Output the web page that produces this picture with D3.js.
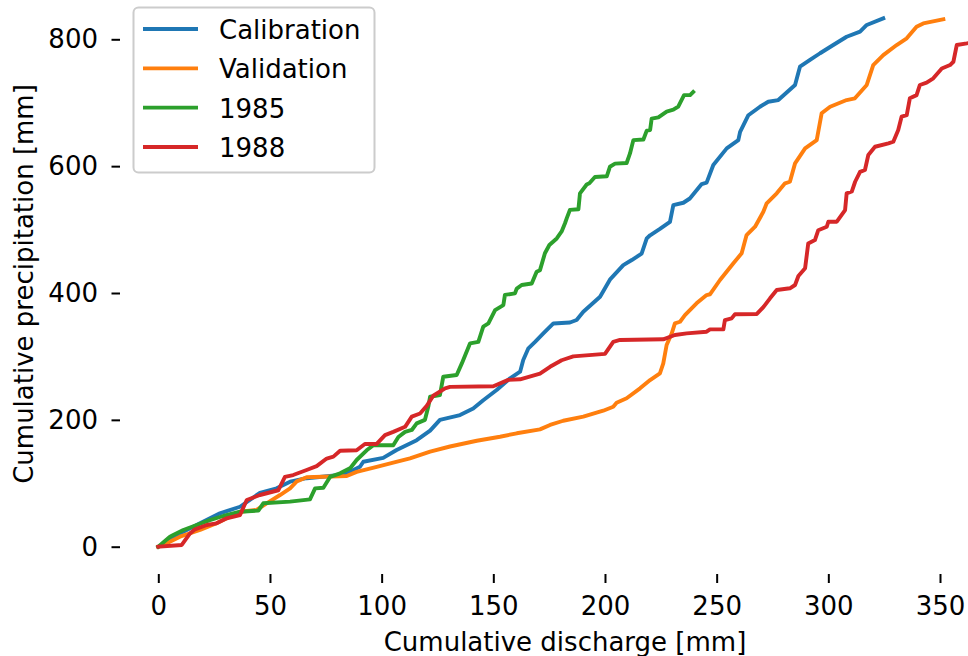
<!DOCTYPE html>
<html>
<head>
<meta charset="utf-8">
<script src="https://cdn.jsdelivr.net/npm/d3@7"></script>
<style>
  html, body { margin: 0; padding: 0; background: #fff; }
  svg { display: block; }
  text { font-family: "DejaVu Sans", sans-serif; }
</style>
</head>
<body>
<svg id="chart" width="968" height="656"></svg>
<script>
const seriesNames = ["Calibration", "Validation", "1985", "1988"];
const seriesColors = ["#1f77b4", "#ff7f0e", "#2ca02c", "#d62728"];

const calibration = [[0,0],[3.8,5.4],[6.7,15.8],[11.2,23.6],[18.7,36.9],[27.6,52.7],[36.6,63],[45.5,85],[53,92],[59,102.5],[66.4,108],[81.4,113],[85.8,118],[90.3,126],[91.8,134],[100.7,140],[106.7,152.5],[115.7,168],[121.7,183],[126.1,200],[135.1,207.6],[141,218],[145.5,231],[151.5,247],[157.5,265.5],[162,276],[163.4,294.4],[165.7,312.8],[168.7,323],[172.4,336.4],[176.9,352],[184.3,353.5],[187.3,357.4],[190.3,370.5],[197.8,394],[202.2,421],[208.2,444],[212,452],[216.4,462],[218.7,486],[220.2,491],[224.6,501],[229.1,512],[230.6,538.7],[235.1,542.3],[238,549],[243.3,571.8],[245.5,574],[248.5,601.8],[254.5,628],[259.7,641],[260.5,654],[264.2,680.3],[269.4,693.7],[273.1,701.6],[277.6,704.2],[285.1,727.9],[287.3,756.8],[291.8,767.4],[296.3,778],[302.2,791],[308.2,804],[314.2,812],[317.2,822.6],[324.6,833]];

const validation = [[0,0],[3.8,5.4],[9.7,15.8],[18.7,26.3],[26.1,36.9],[36.6,55.2],[44,57.9],[48.5,68.4],[54.5,81.5],[59,92],[62,103],[66.4,109.4],[84.4,111.5],[88.8,118],[97.8,126],[105.2,132.5],[112.7,139.4],[121.7,150],[130.6,158],[142.6,167],[153,173.4],[160.5,178.8],[170.9,185],[175.4,192],[181.3,198.6],[190.3,205],[199.2,214.4],[203.7,220.7],[205.2,227],[209.7,234],[215.7,249.7],[220.2,262.8],[224.6,273.4],[226.1,289],[227.6,318],[229.9,336.4],[231.3,352],[233.6,354.7],[235.8,365],[241,383.7],[245.5,396.8],[247,398],[251.5,420.5],[257.5,447],[261.2,462.6],[263.4,491.4],[267.2,504.5],[270.9,528],[272.4,541.4],[276.9,557.2],[280.6,572.9],[282.8,575.4],[285.1,604.4],[289.6,628],[294.8,641],[297,683.3],[300.8,693.7],[308.2,704.2],[311.9,707],[317.2,728],[320.1,759.4],[324.6,775],[330.6,791],[335.1,801.5],[339.5,819.8],[342.5,825],[351.5,831.5]];

const y1985 = [[0,0],[5.2,15.8],[6.7,18.4],[11.2,26.3],[17.2,34.2],[23.1,42],[29.1,48.4],[36.6,55.2],[44.8,56.8],[47,68.4],[59,71],[67.9,74.7],[70.2,92],[73.9,93],[76.9,110],[81.4,115.7],[86,124],[88.8,136.7],[93.3,152],[96.3,160],[105.2,160],[107.5,173],[110.5,181],[113.5,184],[115.7,194.5],[119.4,200],[120.9,221],[121.7,236.5],[126.1,239],[127.6,268],[133.6,270.7],[135.9,289],[139.6,320.7],[143.3,323],[145.5,347],[147.8,352],[150.8,373],[154.5,381],[155.2,397],[159.7,399.5],[160.5,407],[162.7,412.6],[167.2,415],[169.4,433.6],[170.9,436],[173.1,462.6],[175.1,475.6],[178.4,486],[180.6,497],[182.1,510],[182.9,518],[184.3,531],[188.1,532],[188.8,557],[191.8,571],[193,573],[195.5,583],[200.8,584],[202.2,599],[204.5,604],[209.7,605],[211.2,620],[212.7,641],[217.2,642],[218.7,656],[220.2,657],[220.9,675],[223.9,677],[227.6,686],[230.6,689],[232.8,694],[235.4,712],[238.1,712],[239.5,717]];

const y1988 = [[0,0],[10.5,2.7],[14.2,21],[16.4,27.4],[21.7,34.2],[26.1,36.9],[30.6,44.8],[36.6,50],[39.6,73.6],[45.5,81.5],[53.7,89],[56.7,110],[60.4,113],[66.4,121],[70.9,127],[75.4,139],[78.4,142],[81.4,151.3],[88.8,152],[92.5,162],[97.8,162],[101.5,176],[105.2,181],[110.5,189],[113.5,205],[117.2,210],[120.2,222],[123.1,238],[128.4,249.7],[130.6,252],[150,253],[156.7,263],[162,264],[170.9,273],[175.4,283.7],[180.6,294],[185.8,300],[200,304],[203.7,323],[206.7,326],[226.1,327],[231.3,333.8],[236.6,336.4],[245.5,339],[247,342.7],[253,342.7],[253.7,357.4],[256.7,360],[258.2,366.4],[268,367],[271,378],[273.9,391.6],[276.9,404.7],[282.8,407.4],[285.1,412.6],[286.6,426.8],[289.6,439],[291,478],[294,483.5],[295.5,499],[299.3,504.5],[300,512.4],[303.8,512.4],[307.5,530.8],[308.2,557],[310.5,560],[312,575.4],[314.2,591],[316.4,594],[317.9,617.5],[320.9,630.6],[326.9,636],[329.1,638.5],[331.3,657],[332.8,678],[335.1,680.6],[336.5,707],[339.5,712],[341,728],[344,731.7],[347,738.5],[350.8,754],[354.5,759.4],[356,764.6],[357.5,791],[362,793.6],[364,795]];

const seriesData = [calibration, validation, y1985, y1988];
const xTicks = [0, 50, 100, 150, 200, 250, 300, 350];
const yTicks = [0, 200, 400, 600, 800];
const xLabel = "Cumulative discharge [mm]";
const yLabel = "Cumulative precipitation [mm]";

const svg = d3.select("#chart");
const FS = 26;

const x = d3.scaleLinear().domain([0, 350]).range([158.3, 940]);
const y = d3.scaleLinear().domain([0, 800]).range([546.7, 39.3]);

// axes
const xAxis = d3.axisBottom(x).tickValues(xTicks).tickSize(9).tickPadding(13.5).tickFormat(d3.format("d"));
const yAxis = d3.axisLeft(y).tickValues(yTicks).tickSize(8.5).tickPadding(13.5).tickFormat(d3.format("d"));

const gx = svg.append("g").attr("transform", "translate(0,574)").call(xAxis);
const gy = svg.append("g").attr("transform", "translate(120,0)").call(yAxis);
[gx, gy].forEach(g => {
  g.select(".domain").remove();
  g.selectAll(".tick line").attr("stroke", "#000").attr("stroke-width", 2);
  g.selectAll(".tick text").attr("fill", "#000").style("font-size", FS + "px")
    .style("font-family", "'DejaVu Sans', sans-serif");
});

// lines
const line = d3.line().x(d => x(d[0])).y(d => y(d[1]));
seriesData.forEach((data, i) => {
  svg.append("path")
    .datum(data)
    .attr("d", line)
    .attr("fill", "none")
    .attr("stroke", seriesColors[i])
    .attr("stroke-width", 3.9)
    .attr("stroke-linejoin", "round")
    .attr("stroke-linecap", "square");
});

// axis labels
svg.append("text")
  .attr("x", 565).attr("y", 651)
  .attr("text-anchor", "middle")
  .style("font-size", FS + "px")
  .text(xLabel);

svg.append("text")
  .attr("transform", "translate(33,284) rotate(-90)")
  .attr("text-anchor", "middle")
  .style("font-size", FS + "px")
  .text(yLabel);

// legend
const lg = svg.append("g");
lg.append("rect")
  .attr("x", 133.5).attr("y", 7.5).attr("width", 241).attr("height", 165)
  .attr("rx", 5).attr("ry", 5)
  .attr("fill", "#fff").attr("fill-opacity", 0.8)
  .attr("stroke", "#cccccc").attr("stroke-width", 2);

const rowY = d3.scaleLinear().domain([0, 3]).range([29, 147]);
seriesNames.forEach((name, i) => {
  const cy = rowY(i);
  lg.append("line")
    .attr("x1", 143).attr("x2", 198)
    .attr("y1", cy).attr("y2", cy)
    .attr("stroke", seriesColors[i]).attr("stroke-width", 3.9);
  lg.append("text")
    .attr("x", 219).attr("y", cy + 10)
    .style("font-size", FS + "px")
    .text(name);
});
</script>
</body>
</html>
